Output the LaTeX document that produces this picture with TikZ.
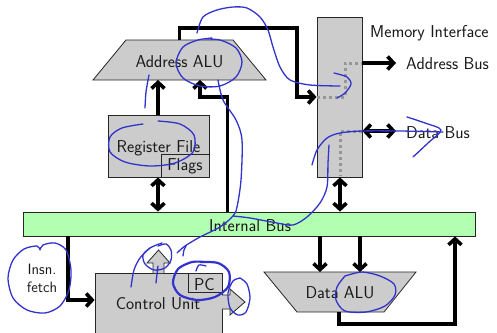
\documentclass[tikz,border=0pt]{standalone}
\usetikzlibrary{arrows.meta}
\definecolor{boxgray}{RGB}{204,204,204}
\definecolor{busgreen}{RGB}{178,255,178}
\definecolor{ink}{RGB}{50,50,205}
\definecolor{dotgray}{RGB}{150,150,150}
\begin{document}
\begin{tikzpicture}[x=1pt,y=-1pt,
  box/.style={draw=black!85, line width=0.8pt, fill=boxgray, inner sep=0pt},
  lbl/.style={font=\fontsize{17.2}{20}\selectfont\sffamily, inner sep=0pt, text=black!90, anchor=base},
  small/.style={font=\fontsize{15}{18}\selectfont\sffamily, inner sep=0pt, text=black!90, align=center},
  conn/.style={line width=3.6pt, black},
  tipend/.style={-{Straight Barb[length=6pt,width=13pt]}},
  tipboth/.style={{Straight Barb[length=6pt,width=13pt]}-{Straight Barb[length=6pt,width=13pt]}},
  dots/.style={line width=3pt, dotgray, dash pattern=on 3pt off 3pt},
  scrib/.style={ink, line width=1.3pt, line cap=round, line join=round}]
\useasboundingbox (0,0) rectangle (497,332);
\clip (0,0) rectangle (497,332);

% boxes
\draw[box] (93,80) -- (126,40) -- (233,40) -- (266,80) -- cycle;
\coordinate (aaluT) at (179.5,40);
\coordinate (aaluB) at (179.5,80);
\node[lbl] (aalu) at (179.5,67) {Address ALU};

\node[box, minimum width=45pt, minimum height=160pt] (mem) at (339.5,97) {};
\node[box, minimum width=101pt, minimum height=62pt] (rf) at (158.5,146) {};
\node[box, minimum width=48pt, minimum height=23pt] (flags) at (185,165.5) {};
\node[lbl] (rflbl) at (158.5,152) {Register File};
\node[lbl] (flagslbl) at (185,170) {Flags};

\node[draw=black!85, line width=0.8pt, fill=busgreen, minimum width=452pt, minimum height=24pt, inner sep=0pt] (ibus) at (249,224) {};
\node[lbl] (ibuslbl) at (250,231) {Internal Bus};

\node[box, minimum width=127pt, minimum height=62pt] (cu) at (158.5,304) {};
\node[lbl] (culbl) at (158,309) {Control Unit};
\node[box, minimum width=34pt, minimum height=19pt] (pc) at (205,282.5) {};
\node[lbl] (pclbl) at (204.5,290) {PC};

\draw[box] (264,272) -- (416,272) -- (384,312) -- (297,312) -- cycle;
\coordinate (dalT) at (340,272);
\coordinate (dalB) at (339,312);
\node[lbl] (dalu) at (340,298) {Data ALU};

\node[lbl, anchor=base west] (memlbl) at (370,37) {Memory Interface};
\node[lbl, anchor=base west] (abus) at (406,69) {Address Bus};
\node[lbl, anchor=base west] (dbus) at (406,138) {Data Bus};
\node[small] (insn) at (42,278) {Insn.\\fetch};

% gray block arrows
\draw[box] (153,273) -- (153,263) -- (147,263) -- (158.5,250) -- (170,263) -- (164,263) -- (164,273);
\draw[box] (222,295) -- (230,295) -- (230,289) -- (245,302) -- (230,315) -- (230,309) -- (222,309);

% dotted paths in memory interface
\draw[dots] (317,97) -- (345,97) -- (345,63) -- (362,63);
\draw[dots] (362,131) -- (340,131) -- (340,176);

% connectors
\draw[conn, tipend] (aaluT) -- (179.5,28) -- (297,28) -- (297,97) -- (mem.west |- 0,97);
\draw[conn, tipend] (mem.east |- 0,63) -- (396,63);
\draw[conn, tipboth] (mem.east |- 0,131) -- (396,131);
\draw[conn, tipboth] (mem.south -| 340,0) -- (ibus.north -| 340,0);
\draw[conn, tipend] (rf.north -| 158,0) -- (aaluB -| 158,0);
\draw[conn, tipboth] (rf.south -| 158,0) -- (ibus.north -| 158,0);
\draw[conn, tipend] (ibus.north -| 227.5,0) -- (227.5,97) -- (200,97) -- (aaluB -| 200,0);
\draw[conn, tipend] (ibus.south -| 68,0) -- (68,300) -- (cu.west |- 0,300);
\draw[conn, tipend] (ibus.south -| 320,0) -- (dalT -| 320,0);
\draw[conn, tipend] (ibus.south -| 360,0) -- (dalT -| 360,0);
\draw[conn, tipend] (dalB) -- (339,324) -- (455,324) -- (ibus.south -| 455,0);

% blue hand annotations
\draw[scrib] plot[smooth] coordinates {(197,33) (203,17) (217,10) (233,7) (247,8) (260,17) (268,30) (273,47) (280,67) (290,80) (310,85) (340,86)};
\draw[scrib] plot[smooth] coordinates {(334,73) (347,77) (351,84) (345,93) (337,98)};
\draw[scrib] plot[smooth] coordinates {(202,39) (220,40) (236,48) (242,62) (236,77) (220,86) (200,86) (183,78) (176,63) (183,47) (198,40) (212,38)};
\draw[scrib] plot[smooth] coordinates {(149,75) (146,92) (145,108)};
\draw[scrib] plot[smooth] coordinates {(218,80) (223,100) (236,120) (242,140) (241,180) (237,207) (233,216) (220,227) (200,237) (185,246) (177,253)};
\draw[scrib] plot[smooth] coordinates {(233,216) (250,218) (277,223) (293,225) (307,217) (320,203) (327,187) (328,163) (329,145)};
\draw[scrib] plot[smooth] coordinates {(312,165) (317,150) (327,138) (340,133) (362,131) (400,131) (443,132)};
\draw[scrib] plot[smooth] coordinates {(407,117) (425,123) (441,130) (428,143) (413,157)};
\draw[scrib] plot[smooth] coordinates {(158,121) (180,124) (194,135) (193,152) (175,163) (150,166) (125,162) (110,152) (110,137) (122,128) (143,124)};
\draw[scrib] plot[smooth] coordinates {(40,250) (43,245) (55,243) (66,250) (71,270) (69,290) (60,306) (45,313) (27,310) (13,298) (8,278) (13,260) (24,249) (37,246) (40,250)};
\draw[scrib, line width=2.2pt] plot[smooth] coordinates {(200,262) (218,263) (229,272) (228,287) (215,297) (197,300) (180,295) (173,283) (178,269) (192,262) (205,262)};
\draw[scrib] plot[smooth] coordinates {(196,271) (199,265) (206,266)};
\draw[scrib] plot[smooth] coordinates {(240,278) (247,284) (250,298) (246,312) (238,315) (230,308) (228,293) (233,281) (240,278)};
\draw[scrib] plot[smooth] coordinates {(345,276) (362,272) (380,276) (394,284) (395,295) (385,306) (366,312) (345,311) (336,300) (337,287) (345,276)};
\draw[scrib] plot[smooth] coordinates {(131,287) (134,270) (140,258) (150,248) (162,243)};
\draw[scrib] plot[smooth] coordinates {(158,246) (166,244) (171,250) (171,260) (165,268) (154,270) (145,264) (143,255) (150,248)};
\draw[scrib] plot[smooth] coordinates {(156,283) (157,274) (158,266)};
\draw[scrib] plot[smooth] coordinates {(183,256) (184,250) (186,246)};
\end{tikzpicture}
\end{document}
